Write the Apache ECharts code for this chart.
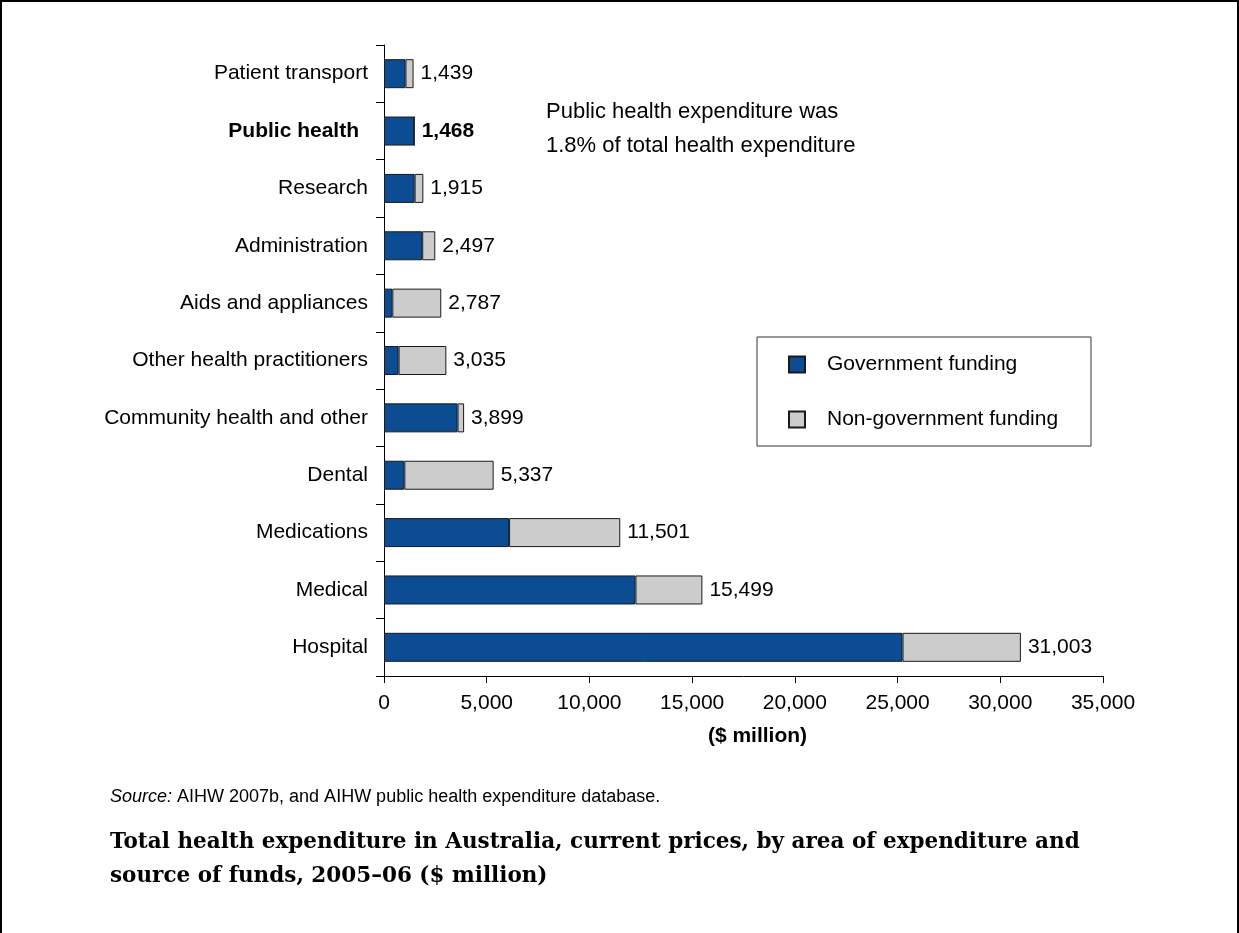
<!DOCTYPE html>
<html>
<head>
<meta charset="utf-8">
<script src="https://cdn.jsdelivr.net/npm/echarts@6/dist/echarts.min.js"></script>
<style>
html,body{margin:0;padding:0;background:#fff;}
#c{width:1239px;height:933px;}
</style>
</head>
<body>
<div id="c"></div>
<script>
const categories = ['Patient transport','Public health','Research','Administration','Aids and appliances','Other health practitioners','Community health and other','Dental','Medications','Medical','Hospital'];
const totals = [1439,1468,1915,2497,2787,3035,3899,5337,11501,15499,31003];
const government = [1045,1468,1490,1860,405,710,3580,990,6090,12240,25240];
const nonGovernment = [394,0,425,637,2382,2325,319,4347,5411,3259,5763];
const xTicks = {min:0,max:35000,interval:5000};

const fontSans = '"Liberation Sans", Arial, sans-serif';
const chart = echarts.init(document.getElementById('c'), null, {renderer:'canvas'});

const nonGovData = nonGovernment.map((v,i)=>{
  const d = {value:v};
  if (categories[i]==='Public health') d.label = {fontWeight:'bold'};
  return d;
});

chart.setOption({
  animation:false,
  backgroundColor:'#fff',
  textStyle:{fontFamily:fontSans},
  grid:{left:384,right:136,top:45,bottom:257,containLabel:false},
  legend:{
    orient:'vertical',left:783,top:349,
    icon:'rect',itemWidth:16,itemHeight:16,itemGap:34,
    textStyle:{fontSize:21,color:'#000',fontFamily:fontSans,padding:[0,0,0,17]},
    data:['Government funding','Non-government funding']
  },
  xAxis:{
    type:'value',min:xTicks.min,max:xTicks.max,interval:xTicks.interval,
    name:'($ million)',nameLocation:'middle',nameGap:50,
    nameTextStyle:{fontSize:21,fontWeight:'bold',color:'#000',padding:[0,0,0,28]},
    axisLine:{show:true,lineStyle:{color:'#000',width:1}},
    axisTick:{show:true,length:7,lineStyle:{color:'#000'}},
    axisLabel:{fontSize:21,color:'#000',margin:17,
      formatter:v=>v.toLocaleString('en-US')},
    splitLine:{show:false}
  },
  yAxis:{
    type:'category',data:categories,inverse:true,
    axisLine:{show:true,lineStyle:{color:'#000',width:1}},
    axisTick:{show:true,length:8,lineStyle:{color:'#000'}},
    axisLabel:{fontSize:21,color:'#000',margin:16,
      formatter:v=> v==='Public health' ? '{b|'+v+'}' : v,
      rich:{b:{fontWeight:'bold',fontSize:21,color:'#000',padding:[0,9,0,0]}}
    }
  },
  series:[
    {name:'Government funding',type:'bar',stack:'t',barWidth:29,data:government,
     itemStyle:{color:'#0c4c93',borderColor:'#1a1a1a',borderWidth:1}},
    {name:'Non-government funding',type:'bar',stack:'t',barWidth:29,data:nonGovData,
     itemStyle:{color:'#cccccc',borderColor:'#1a1a1a',borderWidth:1},
     label:{show:true,position:'right',distance:7,fontSize:21,color:'#000',
       formatter:p=>totals[p.dataIndex].toLocaleString('en-US')}}
  ],
  graphic:[
    {type:'rect',shape:{x:1,y:1,width:1237,height:960},style:{fill:'none',stroke:'#000',lineWidth:2},silent:true},
    {type:'rect',shape:{x:757,y:337,width:334,height:109},style:{fill:'none',stroke:'#333',lineWidth:1},silent:true,z:-1},
    {type:'text',left:546,top:95,style:{text:'Public health expenditure was\n1.8% of total health expenditure',fontSize:22,lineHeight:34,fill:'#000',fontFamily:fontSans}},
    {type:'text',left:110,top:788,style:{text:'{i|Source:} AIHW 2007b, and AIHW public health expenditure database.',fontSize:18,fill:'#000',fontFamily:fontSans,rich:{i:{fontStyle:'italic',fontSize:18,fontFamily:fontSans}}}},
    {type:'text',left:110,top:825,style:{text:'Total health expenditure in Australia, current prices, by area of expenditure and\nsource of funds, 2005–06 ($ million)',fontSize:21.5,fontWeight:'bold',lineHeight:34,fill:'#000',fontFamily:'"DejaVu Serif", "Liberation Serif", serif'}}
  ]
});
</script>
</body>
</html>
